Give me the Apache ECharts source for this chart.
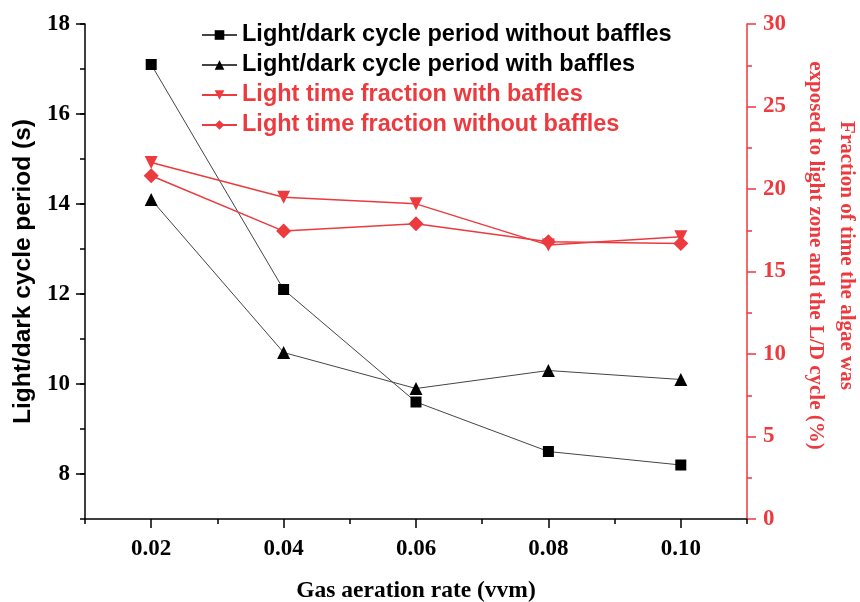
<!DOCTYPE html>
<html>
<head>
<meta charset="utf-8">
<script src="https://cdn.jsdelivr.net/npm/echarts@6/dist/echarts.min.js"></script>
<style>
  html, body { margin: 0; padding: 0; background: #fff; }
  #chart { width: 860px; height: 602px; }
</style>
</head>
<body>
<div id="chart"></div>
<script>
// data
const aerationRate = [0.02, 0.04, 0.06, 0.08, 0.10]
const periodWithoutBaffles = [17.1, 12.1, 9.6, 8.5, 8.2]
const periodWithBaffles = [14.1, 10.7, 9.9, 10.3, 10.1]
const fractionWithBaffles = [21.6, 19.5, 19.1, 16.6, 17.1]
const fractionWithoutBaffles = [20.8, 17.45, 17.9, 16.8, 16.7]

const xTicks = [0.02, 0.04, 0.06, 0.08, 0.10]
const leftTicks = [8, 10, 12, 14, 16, 18]

const RED = '#ec3a3e'
const serif = 'Liberation Serif'
const sans = 'Liberation Sans'

function pairs(ys) {
  return aerationRate.map((x, i) => [x, ys[i]])
}

const myChart = echarts.init(document.getElementById('chart'))

const tickLabel = { fontFamily: serif, fontWeight: 'bold', fontSize: 23, color: '#000' }

const option = {
  animation: false,
  grid: { left: 85, right: 113, top: 24, bottom: 83, outerBoundsMode: 'none', containLabel: false },
  legend: {
    orient: 'vertical',
    left: 196,
    top: 18,
    itemWidth: 35,
    itemHeight: 12,
    itemGap: 6,
    textStyle: { fontFamily: sans, fontWeight: 'bold', fontSize: 23.5, lineHeight: 24 },
    data: [
      { name: 'Light/dark cycle period without baffles', textStyle: { color: '#000' } },
      { name: 'Light/dark cycle period with baffles', textStyle: { color: '#000' } },
      { name: 'Light time fraction with baffles', textStyle: { color: RED } },
      { name: 'Light time fraction without baffles', textStyle: { color: RED } }
    ]
  },
  xAxis: [
    {
      type: 'value',
      min: 0.01,
      max: 0.11,
      interval: 0.01,
      name: 'Gas aeration rate (vvm)',
      nameLocation: 'middle',
      nameGap: 60,
      nameTextStyle: { fontFamily: serif, fontWeight: 'bold', fontSize: 23.5, color: '#000' },
      axisLine: { lineStyle: { color: '#000', width: 1.5 } },
      axisTick: { length: 5, lineStyle: { color: '#000', width: 1.5 } },
      axisLabel: {
        ...tickLabel,
        margin: 19,
        customValues: xTicks,
        formatter: v => v.toFixed(2)
      },
      splitLine: { show: false }
    },
    {
      // long ticks for the labelled values
      type: 'value',
      position: 'bottom',
      min: 0.01,
      max: 0.11,
      axisLine: { show: false },
      axisTick: { length: 9, customValues: xTicks, lineStyle: { color: '#000', width: 1.5 } },
      axisLabel: { show: false },
      splitLine: { show: false }
    }
  ],
  yAxis: [
    {
      type: 'value',
      min: 7,
      max: 18,
      interval: 1,
      position: 'left',
      name: 'Light/dark cycle period (s)',
      nameLocation: 'middle',
      nameGap: 44,
      nameTextStyle: { fontFamily: sans, fontWeight: 'bold', fontSize: 24.5, color: '#000' },
      axisLine: { show: true, lineStyle: { color: '#000', width: 1.5 } },
      axisTick: { show: true, length: 5, lineStyle: { color: '#000', width: 1.5 } },
      axisLabel: {
        ...tickLabel,
        margin: 15,
        customValues: leftTicks
      },
      splitLine: { show: false }
    },
    {
      type: 'value',
      min: 0,
      max: 30,
      interval: 5,
      position: 'right',
      name: 'Fraction of time the algae was\nexposed to light zone and the L/D cycle (%)',
      nameLocation: 'middle',
      nameRotate: -90,
      nameGap: 53,
      nameTextStyle: { fontFamily: serif, fontWeight: 'bold', fontSize: 21, color: RED, lineHeight: 31, padding: [0, 32, 0, 0] },
      axisLine: { show: true, lineStyle: { color: RED, width: 1.5 } },
      axisTick: { show: true, length: 9, lineStyle: { color: RED, width: 1.5 } },
      minorTick: { show: true, splitNumber: 2, length: 5, lineStyle: { color: RED, width: 1.5 } },
      axisLabel: { ...tickLabel, color: RED, margin: 16 },
      splitLine: { show: false },
      minorSplitLine: { show: false }
    },
    {
      // long ticks on the left axis
      type: 'value',
      min: 7,
      max: 18,
      position: 'left',
      axisLine: { show: false },
      axisTick: { show: true, length: 9, customValues: leftTicks, lineStyle: { color: '#000', width: 1.5 } },
      axisLabel: { show: false },
      splitLine: { show: false }
    }
  ],
  series: [
    {
      name: 'Light/dark cycle period without baffles',
      type: 'line',
      yAxisIndex: 0,
      data: pairs(periodWithoutBaffles),
      symbol: 'rect',
      symbolSize: 11,
      itemStyle: { color: '#000' },
      lineStyle: { color: '#444', width: 1 }
    },
    {
      name: 'Light/dark cycle period with baffles',
      type: 'line',
      yAxisIndex: 0,
      data: pairs(periodWithBaffles),
      symbol: 'triangle',
      symbolSize: 13,
      itemStyle: { color: '#000' },
      lineStyle: { color: '#444', width: 1 }
    },
    {
      name: 'Light time fraction with baffles',
      type: 'line',
      yAxisIndex: 1,
      data: pairs(fractionWithBaffles),
      symbol: 'triangle',
      symbolRotate: 180,
      symbolSize: 13,
      itemStyle: { color: RED },
      lineStyle: { color: RED, width: 1.5 }
    },
    {
      name: 'Light time fraction without baffles',
      type: 'line',
      yAxisIndex: 1,
      data: pairs(fractionWithoutBaffles),
      symbol: 'diamond',
      symbolSize: 15,
      itemStyle: { color: RED },
      lineStyle: { color: RED, width: 1.5 }
    }
  ]
}

myChart.setOption(option)

window.addEventListener('resize', () => {
  myChart.resize()
})
</script>
</body>
</html>
